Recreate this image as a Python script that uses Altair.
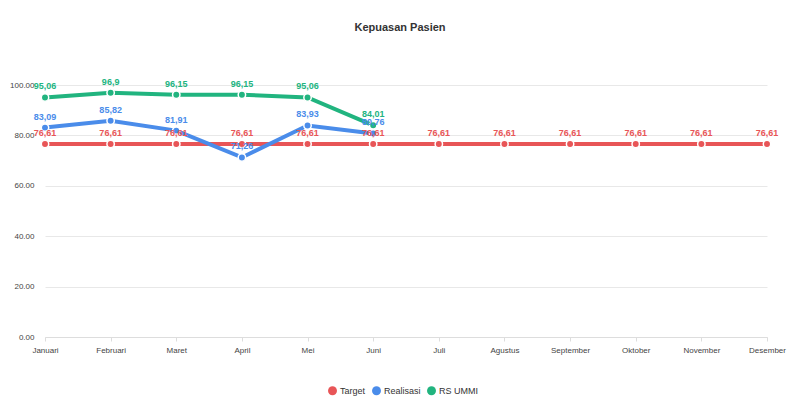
import altair as alt
import pandas as pd

months = ["Januari", "Februari", "Maret", "April", "Mei", "Juni", "Juli",
          "Agustus", "September", "Oktober", "November", "Desember"]
target = [76.61] * 12
realisasi = [83.09, 85.82, 81.91, 71.26, 83.93, 80.76]
rs_ummi = [95.06, 96.9, 96.15, 96.15, 95.06, 84.01]

series_names = ["Target", "Realisasi", "RS UMMI"]
series_colors = ["#e85557", "#4a8cea", "#21b47f"]

rows = []
for name, vals in zip(series_names, [target, realisasi, rs_ummi]):
    for m, v in zip(months, vals):
        rows.append({"bulan": m, "nilai": v, "seri": name,
                     "label": str(v).replace(".", ",")})
df = pd.DataFrame(rows)

x = alt.X("bulan:N", sort=months, scale=alt.Scale(type="point", padding=0),
          axis=alt.Axis(title=None, labelAngle=0, labelFontSize=8, labelColor="#444",
                        labelPadding=5, tickColor="#dddddd", tickSize=4,
                        domainColor="#dddddd", grid=False, labelFont="Liberation Sans"))
y = alt.Y("nilai:Q", scale=alt.Scale(domain=[0, 100], nice=False),
          axis=alt.Axis(title=None, values=[0, 20, 40, 60, 80, 100], format=".2f",
                        labelFontSize=8, labelColor="#444", gridColor="#e8e8e8",
                        domain=False, ticks=False, labelPadding=11, grid=True,
                        labelFont="Liberation Sans"))
color = alt.Color("seri:N", sort=series_names,
                  scale=alt.Scale(domain=series_names, range=series_colors),
                  legend=alt.Legend(title=None, orient="none", direction="horizontal",
                                    legendX=283, legendY=301, symbolType="circle",
                                    symbolSize=80, symbolStrokeWidth=0,
                                    labelFontSize=9, labelColor="#333",
                                    labelFont="Liberation Sans", columnPadding=6,
                                    symbolOffset=0, labelOffset=3))

base = alt.Chart(df).encode(x=x, y=y, color=color,
                            order=alt.Order("seri:N"))

lines = base.mark_line(strokeWidth=4)
points = base.mark_point(filled=True, size=55, stroke="white", strokeWidth=1.5, opacity=1)
labels = base.mark_text(dy=-11, fontSize=9, fontWeight="bold",
                        font="Liberation Sans").encode(text="label:N")

chart = alt.layer(lines, points, labels).properties(
    width=722, height=252,
    background="white",
    title=alt.TitleParams("Kepuasan Pasien", fontSize=11, fontWeight="bold",
                          color="#333", anchor="middle", offset=45,
                          font="Liberation Sans", dx=-6),
    autosize=alt.AutoSizeParams(type="none"),
    padding={"left": 37, "top": 77, "right": 25, "bottom": 63},
).configure_view(strokeWidth=0, stroke=None)

chart.save("out.html", embed_options={"renderer": "svg", "actions": False})
